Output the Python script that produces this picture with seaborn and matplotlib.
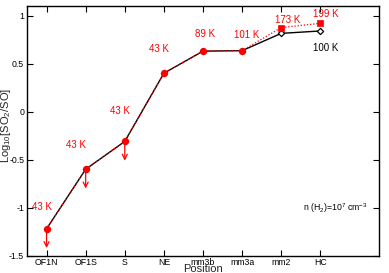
import matplotlib
matplotlib.use("Agg")
import matplotlib.pyplot as plt
import seaborn as sns
import pandas as pd
import numpy as np

positions = ["OF1N", "OF1S", "S", "NE", "mm3b", "mm3a", "mm2", "HC"]
ratio_100K = [-1.22, -0.60, -0.31, 0.40, 0.63, 0.635, 0.815, 0.84]
ratio_Tex = [-1.22, -0.60, -0.31, 0.40, 0.63, 0.635, 0.875, 0.92]
temp_labels = ["43 K", "43 K", "43 K", "43 K", "89 K", "101 K", "173 K", "199 K"]
upper_limit = [True, True, True, False, False, False, False, False]

sns.set_theme(style="ticks")
plt.rcParams['font.family'] = ['Liberation Sans', 'DejaVu Sans']
plt.rcParams['axes.unicode_minus'] = False
plt.rcParams['mathtext.fontset'] = 'custom'
plt.rcParams['mathtext.rm'] = 'Liberation Sans'
plt.rcParams['mathtext.it'] = 'Liberation Sans'

df = pd.DataFrame({"x": np.arange(len(positions)), "pos": positions,
                   "black": ratio_100K, "red": ratio_Tex})

fig = plt.figure(figsize=(3.89, 2.73), dpi=100)
ax = fig.add_axes([27/389, 1-255.7/273, (379-27)/389, (255.7-6)/273])

sns.lineplot(data=df, x="x", y="black", ax=ax, color="black", lw=1.0, zorder=2)
sns.lineplot(data=df, x="x", y="red", ax=ax, color="red", lw=0.9,
             linestyle=(0, (1, 1.5)), zorder=3)

sns.scatterplot(data=df, x="x", y="black", ax=ax, marker="D", s=10,
                facecolor="white", edgecolor="black", linewidth=0.9, zorder=4)
same = df["black"] == df["red"]
sns.scatterplot(data=df[same], x="x", y="red", ax=ax, marker="o", s=22,
                color="red", edgecolor="red", linewidth=0.5, zorder=5)
sns.scatterplot(data=df[~same], x="x", y="red", ax=ax, marker="s", s=16,
                color="red", edgecolor="red", linewidth=0.5, zorder=5)

for i, (v, ul) in enumerate(zip(ratio_Tex, upper_limit)):
    if ul:
        ax.annotate("", xy=(i, v - 0.20), xytext=(i, v),
                    arrowprops=dict(arrowstyle="->", color="red", lw=0.9,
                                    mutation_scale=9, shrinkA=0, shrinkB=0),
                    zorder=4)

offsets = [(-5, 22), (-10, 24), (-5, 30), (-5, 24), (2, 17), (5, 16), (6, 8), (5, 9)]
for i, (v, lab) in enumerate(zip(ratio_Tex, temp_labels)):
    dx, dy = offsets[i]
    ax.annotate(lab, xy=(i, v), xytext=(dx * 0.72, dy * 0.72),
                textcoords="offset points", ha="center", va="center",
                color="red", fontsize=7)
ax.annotate("100 K", xy=(7, ratio_100K[7]), xytext=(5 * 0.72, -17 * 0.72),
            textcoords="offset points", ha="center", va="center",
            color="black", fontsize=7)

ax.text(8.2, -1.0, r"n (H$_2$)=10$^7$ cm$^{-3}$", ha="right", va="center",
        fontsize=6.3, color="black")

ax.set_xlim(-0.5, 8.5)
ax.set_ylim(-1.5, 1.1)
ax.set_xticks(np.arange(len(positions)))
ax.set_xticklabels(positions)
ax.set_yticks([-1.5, -1, -0.5, 0, 0.5, 1])
ax.set_yticklabels(["-1.5", "-1", "-0.5", "0", "0.5", "1"])
ax.tick_params(direction="in", length=4, width=0.8, labelsize=6.3,
               top=True, right=True, pad=2, colors="black")
for s in ax.spines.values():
    s.set_linewidth(1.0)
    s.set_color("black")
ax.set_xlabel("Position", fontsize=8)
ax.set_ylabel(r"Log$_{10}$[SO$_2$/SO]", fontsize=8)
ax.xaxis.set_label_coords(0.5, -13/249.7)
ax.xaxis.label.set_va("center")
ax.yaxis.set_label_coords(-21/352, 0.523)
ax.yaxis.label.set_va("center")

fig.savefig("out.png", dpi=100)
